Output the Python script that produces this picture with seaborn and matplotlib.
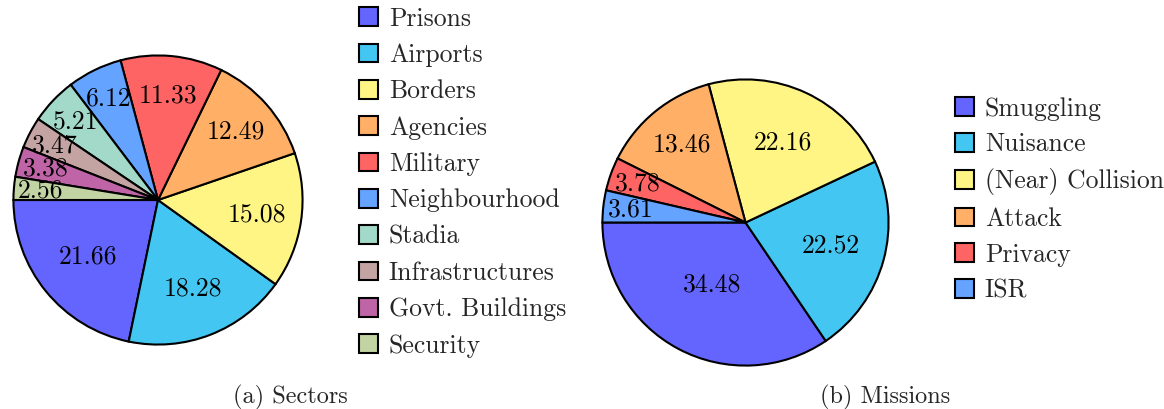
import numpy as np
import matplotlib
matplotlib.use("Agg")
import matplotlib.pyplot as plt
import seaborn as sns
from matplotlib.patches import Patch

sectors = ["Prisons", "Airports", "Borders", "Agencies", "Military", "Neighbourhood",
           "Stadia", "Infrastructures", "Govt. Buildings", "Security"]
sector_values = [21.66, 18.28, 15.08, 12.49, 11.33, 6.12, 5.21, 3.47, 3.38, 2.56]

missions = ["Smuggling", "Nuisance", "(Near) Collision", "Attack", "Privacy", "ISR"]
mission_values = [34.48, 22.52, 22.16, 13.46, 3.78, 3.61]

sector_colors = ["#6464ff", "#43c7f2", "#fff585", "#ffb066", "#ff6464", "#64a3ff",
                 "#a3d9c9", "#c4a3a3", "#bf64a6", "#c2d4a3"]
mission_colors = sector_colors[:6]

sns.set_theme(style="white")
plt.rcParams["font.family"] = ["cmr10", "DejaVu Serif"]
plt.rcParams["axes.formatter.use_mathtext"] = True

FS = 18.5
fig = plt.figure(figsize=(11.64, 4.09), dpi=100)

def draw_pie(ax, values, colors):
    wedges, _ = ax.pie(values, colors=colors, startangle=180, counterclock=True,
                       radius=1.0, wedgeprops=dict(edgecolor="black", linewidth=1.5))
    for w, v in zip(wedges, values):
        ang = np.deg2rad((w.theta1 + w.theta2) / 2)
        d = 0.84 - v / 100.0
        ax.text(d * np.cos(ang), d * np.sin(ang), f"{v:.2f}", ha="center", va="center",
                fontsize=FS, color="black")
    ax.set_xlim(-1.01, 1.01)
    ax.set_ylim(-1.01, 1.01)
    ax.set_aspect("equal")
    ax.axis("off")
    return wedges

W, H = 1164, 409
ax1 = fig.add_axes([12 / W, 63 / H, 292 / W, 292 / H])
w1 = draw_pie(ax1, sector_values, sector_colors)
ax2 = fig.add_axes([601 / W, 42 / H, 289 / W, 289 / H])
w2 = draw_pie(ax2, mission_values, mission_colors)

def add_legend(labels, colors, x, y, spacing):
    handles = [Patch(facecolor=c, edgecolor="black", linewidth=1.5) for c in colors]
    fig.legend(handles, labels, loc="upper left", bbox_to_anchor=(x / W, 1 - y / H),
               frameon=False, fontsize=FS, handlelength=0.74, handleheight=0.74,
               handletextpad=0.42, labelspacing=spacing, borderpad=0, borderaxespad=0)

add_legend(sectors, sector_colors, 359, 7, 0.49)
add_legend(missions, mission_colors, 955, 97, 0.465)

fig.text(290 / W, 1 - 397 / H, "(a) Sectors", ha="center", va="center", fontsize=17.5)
fig.text(885 / W, 1 - 397 / H, "(b) Missions", ha="center", va="center", fontsize=17.5)

fig.savefig("out.png", dpi=100)
